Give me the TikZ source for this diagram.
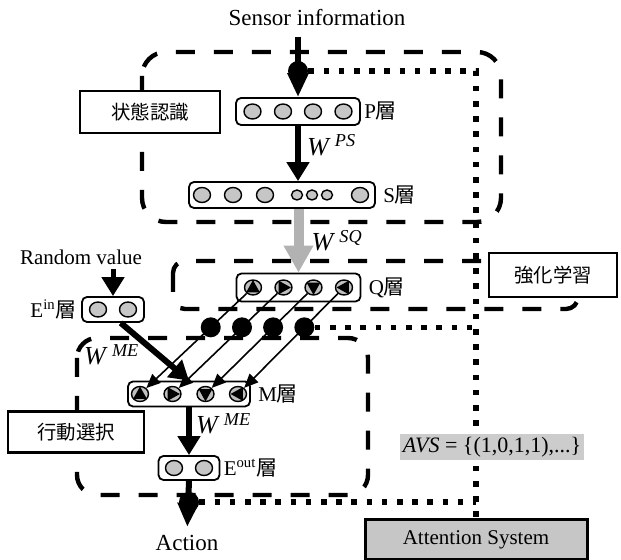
\documentclass[tikz,border=0pt]{standalone}
\usepackage{fontspec}
\setmainfont{Liberation Serif}
\newfontfamily\jp{Noto Sans CJK JP}
\usetikzlibrary{arrows.meta,shapes.geometric,positioning,calc,backgrounds}

\tikzset{
  layerbox/.style={draw,rounded corners=2.5pt,line width=0.9pt,fill=white,inner sep=0pt,
    minimum width=62pt,minimum height=13.5pt},
  neuron/.style={ellipse,draw,line width=0.7pt,fill=gray!45,inner sep=0pt,
    minimum width=8.5pt,minimum height=7.5pt},
  tiny neuron/.style={neuron,minimum width=5.5pt,minimum height=5pt},
  dirneuron/.style={neuron,fill=gray!50},
  pointer/.style={fill=black},
  hub/.style={circle,fill=black,inner sep=0pt,minimum size=10pt},
  tag/.style={draw,line width=1.3pt,fill=white,minimum width=70pt,minimum height=21pt,
    font=\jp\fontsize{9.7}{11}\selectfont},
  lbl/.style={inner sep=0pt,font=\fontsize{10.5}{12}\selectfont},
  wlbl/.style={inner sep=1pt,font=\fontsize{13}{15}\selectfont},
  zone/.style={line width=2.2pt,dash pattern=on 9.5pt off 9.5pt,rounded corners=#1},
  probe/.style={line width=2.8pt,dash pattern=on 2.8pt off 4.8pt},
  bold arrow/.style={line width=3pt,-{Triangle[length=9.5pt,width=11pt]}},
  drop arrow/.style={line width=3pt,-{Triangle[length=12pt,width=10pt]}},
  thin arrow/.style={line width=0.8pt,-{Triangle[length=7pt,width=6pt]}},
}

\begin{document}
\begin{tikzpicture}[x=0.5pt,y=-0.5pt]
  \useasboundingbox (0,0) rectangle (621,560);

  \node[lbl,font=\fontsize{11.5}{13}\selectfont] (sensor) at (317,18) {Sensor information};
  \node[hub] (sj) at (298,71) {};

  \node[tag] (rec) at (150,112) {状態認識};
  \node[tag,minimum width=64pt,minimum height=22pt] (rl) at (553,275) {強化学習};
  \node[tag,minimum width=68pt,minimum height=20.5pt] (sel) at (76,432) {行動選択};

  \node[layerbox] (P) at (298,111.5) {};
  \foreach \x [count=\i] in {252.5,283,313,343.5}
    \node[neuron] (p\i) at (\x,111.5) {};
  \node[lbl,right=1.5pt of P] (Plbl) {P{\jp 層}};

  \node[layerbox,minimum width=93pt,minimum height=13pt] (S) at (282,195) {};
  \foreach \x [count=\i] in {202,233,265,360}
    \node[neuron] (s\i) at (\x,195) {};
  \foreach \x [count=\i] in {297,312,327}
    \node[tiny neuron] (t\i) at (\x,195) {};
  \node[lbl,right=3.5pt of S] (Slbl) {S{\jp 層}};

  \node[layerbox,minimum height=14pt] (Q) at (298.5,287.5) {};
  \foreach \x [count=\i] in {253,283.5,313.5,344}
    \node[dirneuron] (q\i) at (\x,287.5) {};
  \node[lbl,right=3.5pt of Q] (Qlbl) {Q{\jp 層}};

  \node[layerbox,minimum width=61pt,minimum height=12.5pt] (M) at (189,394) {};
  \foreach \x [count=\i] in {140,172.5,205.5,238}
    \node[dirneuron] (m\i) at (\x,394) {};
  \node[lbl,right=3.5pt of M] (Mlbl) {M{\jp 層}};

  \foreach \a [count=\i] in {0,-90,180,90} {
    \fill[pointer,shift={(q\i)},rotate=\a] (0pt,3.7pt) -- (-3.4pt,-2.4pt) -- (3.4pt,-2.4pt) -- cycle;
    \fill[pointer,shift={(m\i)},rotate=\a] (0pt,3.7pt) -- (-3.4pt,-2.4pt) -- (3.4pt,-2.4pt) -- cycle;
  }

  \foreach \i in {1,...,4}
    \node[hub] (b\i) at ($(q\i)!0.374!(m\i)$) {};

  \node[lbl] (rand) at (81,257) {Random value};
  \node[layerbox,minimum width=31pt,minimum height=12.5pt] (Ein) at (113,309.5) {};
  \foreach \x [count=\i] in {98,128}
    \node[neuron] (ei\i) at (\x,309.5) {};
  \node[lbl,left=2pt of Ein] (Einlbl) {E\textsuperscript{in}{\jp 層}};

  \node[layerbox,minimum width=30.5pt,minimum height=12pt] (Eout) at (189,468) {};
  \foreach \x [count=\i] in {174,204}
    \node[neuron] (eo\i) at (\x,468) {};
  \node[lbl,right=1.5pt of Eout] (Eoutlbl) {E\textsuperscript{out}{\jp 層}};

  \node[hub] (aj) at (189,502) {};
  \node[lbl,font=\fontsize{11.5}{13}\selectfont] (action) at (187,543) {Action};

  \node[fill=gray!40,inner sep=1.5pt,font=\fontsize{11}{13}\selectfont] (avs) at (492,447)
    {\textit{AVS} = \{(1,0,1,1),...\}};
  \node[draw,line width=1.5pt,fill=gray!45,minimum width=111pt,minimum height=20pt,
    font=\fontsize{10.5}{12}\selectfont] (attn) at (476,540) {Attention System};

  \draw[drop arrow,shorten <=5pt] (sensor.south -| P.north) -- (P.north);
  \draw[bold arrow] (P.south) -- node[wlbl,right=2pt,pos=0.35] (wps)
    {\textit{W}\,\textsuperscript{\textit{PS}}} (P.south |- S.north);
  \draw[line width=5pt,draw=gray!60,-{Triangle[length=13.5pt,width=14pt]}]
    (S.south -| Q.north) -- node[wlbl,right=3pt,pos=0.5,text=black] (wsq)
    {\textit{W}\,\textsuperscript{\textit{SQ}}} (Q.north);
  \draw[bold arrow,line width=2.5pt,shorten <=2pt] (rand.south -| Ein.north) -- (Ein.north);
  \draw[bold arrow] (Ein.-60) -- node[wlbl,left=7pt,pos=0.55] (wme1)
    {\textit{W}\,\textsuperscript{\textit{ME}}} (M.north);
  \draw[bold arrow] (M.south) -- node[wlbl,right=1pt,pos=0.34] (wme2)
    {\textit{W}\,\textsuperscript{\textit{ME}}} (Eout.north);
  \draw[drop arrow,shorten >=4pt] (Eout.south) -- (action.north);

  \foreach \i in {1,...,4}
    \draw[thin arrow] (q\i) -- (m\i);

  \begin{scope}[on background layer]
    \draw[zone=12pt] (142,52) rectangle (501,222);
    \draw[zone=6pt] (173,261) rectangle (578,309);
    \draw[zone=10pt] (77,338) rectangle (368,495);
    \coordinate (d1) at (476,71);
    \coordinate (d2) at (d1 |- b4);
    \coordinate (d3) at (476,502);
    \draw[probe] (sj) -- (d1) -- (d3) -- (attn.north);
    \draw[probe] (b4) -- (d2);
    \draw[probe] (aj) -- (d3);
  \end{scope}
\end{tikzpicture}
\end{document}
